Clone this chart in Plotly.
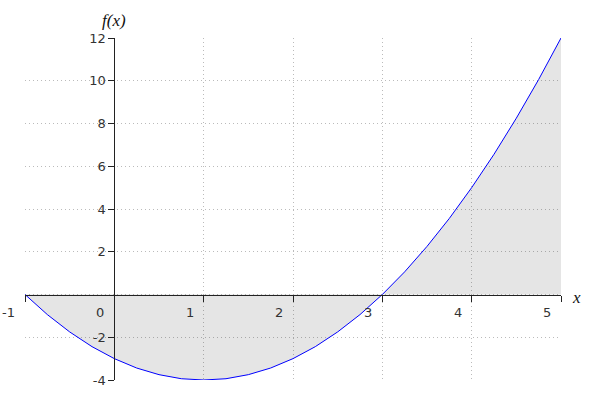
import plotly.graph_objects as go

# Curve samples
x_vals = [-1, -0.75, -0.5, -0.25, 0, 0.25, 0.5, 0.75, 1, 1.25, 1.5, 1.75, 2,
          2.25, 2.5, 2.75, 3, 3.25, 3.5, 3.75, 4, 4.25, 4.5, 4.75, 5]
f_vals = [0, -0.94, -1.75, -2.44, -3, -3.44, -3.75, -3.94, -4, -3.94, -3.75, -3.44, -3,
          -2.44, -1.75, -0.94, 0, 1.06, 2.25, 3.56, 5, 6.56, 8.25, 10.06, 12]

# Ticks and labels
x_ticks = [-1, 0, 1, 2, 3, 4, 5]
x_tick_labels = ["-1", "0", "1", "2", "3", "4", "5"]
y_ticks = [-4, -2, 2, 4, 6, 8, 10, 12]
y_tick_labels = ["-4", "-2", "2", "4", "6", "8", "10", "12"]
grid_x = [-1, 0, 1, 2, 3, 4, 5]
grid_y = [-4, -2, 0, 2, 4, 6, 8, 10, 12]
x_range = [-1, 5]
y_range = [-4, 12]

label_font = dict(family="DejaVu Sans", size=13, color="#333333")
title_font = dict(family="Liberation Serif, Times New Roman, serif", size=17, color="#111111")
axis_color = "#222222"

fig = go.Figure()
fig.add_trace(go.Scatter(
    x=x_vals, y=f_vals, mode="lines",
    line=dict(color="#0000ff", width=1),
    fill="tozeroy", fillcolor="rgba(0,0,0,0.102)",
    hoverinfo="skip", showlegend=False,
))
fig.add_trace(go.Scatter(x=[], y=[], xaxis="x2", yaxis="y2",
                         hoverinfo="skip", showlegend=False))

grid_common = dict(showgrid=True, gridcolor="#bbbbbb", griddash="1px,3px", gridwidth=1,
                   showticklabels=False, zeroline=False, showline=False, ticks="")

fig.update_layout(
    width=600, height=400,
    margin=dict(l=25, r=39, t=38, b=20),
    paper_bgcolor="white", plot_bgcolor="white",
    xaxis=dict(range=x_range, tickvals=grid_x, **grid_common),
    yaxis=dict(range=y_range, tickvals=grid_y, **grid_common),
    xaxis2=dict(overlaying="x", matches="x", anchor="free",
                position=(0 - y_range[0]) / (y_range[1] - y_range[0]),
                range=x_range, showline=True, linecolor=axis_color, linewidth=1,
                ticks="outside", ticklen=6, tickcolor=axis_color, tickwidth=1,
                tickvals=x_ticks, showticklabels=False, showgrid=False, zeroline=False),
    yaxis2=dict(overlaying="y", matches="y", anchor="free", side="left",
                position=(0 - x_range[0]) / (x_range[1] - x_range[0]),
                range=y_range, showline=True, linecolor=axis_color, linewidth=1,
                ticks="outside", ticklen=6, tickcolor=axis_color, tickwidth=1,
                tickvals=y_ticks, ticktext=y_tick_labels, tickfont=label_font,
                ticklabelstandoff=0,
                showgrid=False, zeroline=False),
)

annotations = []
for v, t in zip(x_ticks, x_tick_labels):
    annotations.append(dict(x=v, y=0, xref="x", yref="y", text=t, showarrow=False,
                            xanchor="right", yanchor="middle", xshift=-8, yshift=-18,
                            font=label_font))
annotations.append(dict(x=0, y=y_range[1], xref="x", yref="y", text="<i>f(x)</i>",
                        showarrow=False, xanchor="center", yanchor="middle",
                        yshift=18, font=title_font))
annotations.append(dict(x=x_range[1], y=0, xref="x", yref="y", text="<i>x</i>",
                        showarrow=False, xanchor="left", yanchor="middle",
                        xshift=9, yshift=-3, font=title_font))
fig.update_layout(annotations=annotations)

fig.write_html("out.html", config={"displayModeBar": False},
               post_script="document.body.style.margin='0';document.body.style.padding='0';")
